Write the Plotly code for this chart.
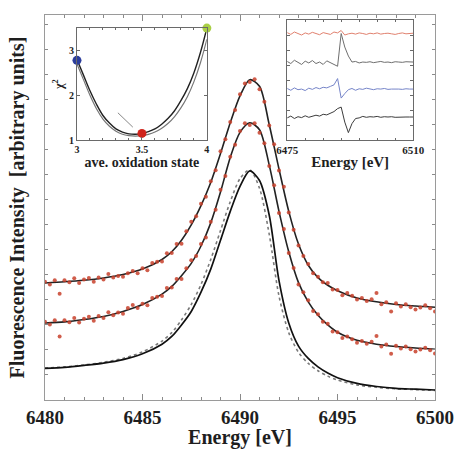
import numpy as np
import plotly.graph_objects as go

# ---- main panel: Kβ emission spectra (fits) ----
fit_energy = [6480, 6481, 6482, 6483, 6484, 6485, 6486,
              6486.5, 6487, 6487.5, 6488, 6488.5, 6489, 6489.5, 6490, 6490.5,
              6491, 6491.5, 6492, 6492.5, 6493, 6493.5, 6494, 6494.5, 6495,
              6496, 6497, 6498, 6499, 6500]
fit_upper = [30.4, 30.7, 31.1, 31.7, 32.6, 34.0, 36.5,
             38.5, 41.5, 45.5, 50.5, 56.5, 64.0, 72.0, 79.0, 83.2,
             81.5, 71.5, 60.0, 49.0, 40.5, 35.0, 31.8, 29.8, 28.4,
             26.5, 25.5, 24.8, 24.4, 24.1]
fit_middle = [20.0, 20.3, 20.9, 21.7, 23.0, 24.8, 27.5,
              29.5, 32.3, 35.5, 40.0, 46.0, 54.0, 63.0, 69.5, 72.0,
              70.2, 61.0, 49.0, 38.5, 30.5, 25.5, 22.0, 19.5, 17.6,
              15.5, 14.5, 13.9, 13.5, 13.2]
ref_solid = [8.2, 8.5, 9.0, 9.6, 10.5, 12.0, 14.5,
             16.5, 19.5, 23.0, 28.0, 34.0, 41.5, 49.0, 55.5, 59.5,
             57.0, 48.0, 31.0, 20.0, 14.0, 10.8, 8.6, 7.0, 5.8,
             4.3, 3.5, 3.0, 2.8, 2.6]
ref_dotted = [8.3, 8.6, 9.1, 9.8, 10.8, 12.5, 15.3,
              17.5, 20.8, 24.8, 30.0, 36.5, 44.0, 51.5, 57.5, 59.8,
              55.0, 43.0, 27.0, 17.5, 12.4, 9.5, 7.6, 6.2, 5.2,
              3.9, 3.3, 2.9, 2.7, 2.5]

# ---- measured points (0.25 eV steps from 6480 to 6500) ----
data_energy = np.linspace(6480, 6500, 81)
data_upper = [30.7, 30.0, 31.1, 27.6, 31.1, 30.6, 31.6, 30.4, 31.3, 31.7,
              30.7, 31.85, 31.3, 32.7, 31.8, 32.2, 32.0, 32.9, 33.5, 32.9,
              34.2, 33.7, 35.6, 35.9, 36.0, 38.1, 38.2, 40.5, 40.6, 43.8,
              46.3, 47.7, 51.0, 52.8, 56.8, 59.7, 64.6, 67.7, 72.2, 75.3,
              79.4, 82.2, 82.6, 83.3, 80.7, 77.5, 71.3, 66.4, 59.6, 55.4,
              48.7, 44.2, 40.1, 37.4, 35.3, 32.9, 32.0, 30.6, 30.4, 28.7,
              28.6, 27.2, 27.8, 27.1, 26.1, 26.5, 25.7, 26.2, 27.8, 24.9,
              25.4, 23.0, 25.1, 24.3, 24.9, 24.1, 23.5, 24.0, 24.6, 23.8,
              23.0]
data_middle = [20.3, 19.6, 20.7, 16.5, 20.7, 20.2, 21.3, 20.1, 21.1, 21.6,
               20.6, 21.8, 21.3, 22.8, 22.0, 22.7, 22.4, 23.9, 24.7, 23.9,
               25.0, 24.6, 26.5, 26.8, 27.0, 29.1, 29.2, 31.4, 31.4, 34.2,
               36.3, 37.4, 40.5, 42.2, 46.3, 49.4, 54.6, 58.2, 63.2, 66.3,
               69.9, 71.9, 71.4, 71.9, 69.4, 66.7, 60.8, 55.8, 48.6, 44.4,
               38.2, 34.3, 30.0, 28.0, 25.9, 23.1, 22.3, 20.3, 19.8, 17.8,
               17.6, 16.1, 16.5, 15.8, 14.9, 15.3, 14.6, 15.1, 16.6, 13.9,
               14.4, 12.0, 14.1, 13.4, 13.9, 13.2, 12.6, 13.1, 13.6, 12.9,
               12.1]

# ---- left inset: chi^2 vs average oxidation state ----
ox_state = [3.00, 3.05, 3.10, 3.15, 3.20, 3.25, 3.30, 3.35, 3.40, 3.45, 3.50,
            3.55, 3.60, 3.65, 3.70, 3.75, 3.80, 3.85, 3.90, 3.95, 4.00]
chi2_a = [2.80, 2.45, 2.10, 1.80, 1.55, 1.38, 1.25, 1.18, 1.14, 1.13, 1.15,
          1.19, 1.25, 1.35, 1.48, 1.65, 1.88, 2.15, 2.50, 2.95, 3.50]
chi2_b = [2.70, 2.35, 2.00, 1.70, 1.47, 1.31, 1.20, 1.13, 1.10, 1.09, 1.10,
          1.13, 1.18, 1.26, 1.37, 1.52, 1.72, 1.97, 2.30, 2.72, 3.25]
chi2_seg_x = [3.315, 3.43]
chi2_seg_y = [1.61, 1.29]
ox_marks = [3.0, 3.5, 4.0]
chi2_marks = [2.78, 1.15, 3.5]
mark_colors = ["#2b3d9c", "#d0241c", "#a9cf45"]

# ---- right inset: residual spectra ----
res_energy = list(range(6475, 6511))
res_red = [3.58, 3.52, 3.60, 3.55, 3.50, 3.57, 3.53, 3.59, 3.54, 3.51, 3.58, 3.56,
           3.52, 3.60, 3.57, 3.65, 3.50, 3.54, 3.56, 3.53, 3.57, 3.55, 3.52, 3.56,
           3.54, 3.57, 3.53, 3.55, 3.56, 3.54, 3.52, 3.55, 3.57, 3.54, 3.55, 3.56]
res_gray = [2.62, 2.55, 2.66, 2.58, 2.52, 2.63, 2.57, 2.65, 2.55, 2.60, 2.52, 2.64,
            2.58, 2.50, 2.46, 3.55, 3.10, 2.80, 2.60, 2.62, 2.57, 2.60, 2.59, 2.61,
            2.58, 2.60, 2.62, 2.59, 2.60, 2.58, 2.61, 2.60, 2.59, 2.61, 2.60, 2.60]
res_blue = [1.72, 1.66, 1.74, 1.68, 1.70, 1.65, 1.73, 1.69, 1.75, 1.71, 1.76, 1.74,
            1.79, 1.84, 2.05, 1.40, 1.55, 1.68, 1.72, 1.66, 1.71, 1.69, 1.73, 1.70,
            1.68, 1.71, 1.70, 1.72, 1.69, 1.70, 1.71, 1.70, 1.69, 1.71, 1.70, 1.70]
res_dark = [0.74, 0.80, 0.72, 0.78, 0.75, 0.81, 0.76, 0.79, 0.83, 0.80, 0.86, 0.84,
            0.90, 0.95, 1.05, 1.10, 0.60, 0.25, 0.55, 0.72, 0.74, 0.79, 0.76, 0.78,
            0.77, 0.79, 0.76, 0.78, 0.77, 0.78, 0.76, 0.77, 0.78, 0.77, 0.77, 0.77]

SERIF = "Liberation Serif"
RED = "#c8412c"
INK = "#1e1e1e"

fig = go.Figure()

# main spectra
fig.add_trace(go.Scatter(x=fit_energy, y=ref_dotted, mode="lines",
                         line=dict(color="#7a7a7a", width=1.6, dash="dot", shape="spline", smoothing=0.8),
                         showlegend=False))
fig.add_trace(go.Scatter(x=fit_energy, y=ref_solid, mode="lines",
                         line=dict(color="#111111", width=1.7, shape="spline", smoothing=0.8),
                         showlegend=False))
for fit_vals, pts in ((fit_upper, data_upper), (fit_middle, data_middle)):
    fig.add_trace(go.Scatter(x=fit_energy, y=fit_vals, mode="lines",
                             line=dict(color="#222222", width=1.6, shape="spline", smoothing=0.8),
                             showlegend=False))
    fig.add_trace(go.Scatter(x=data_energy, y=pts, mode="markers",
                             marker=dict(color=RED, size=4, opacity=0.85),
                             showlegend=False))

# left inset
fig.add_trace(go.Scatter(x=ox_state, y=chi2_b, mode="lines", xaxis="x2", yaxis="y2",
                         line=dict(color="#777777", width=1.2, shape="spline"), showlegend=False))
fig.add_trace(go.Scatter(x=ox_state, y=chi2_a, mode="lines", xaxis="x2", yaxis="y2",
                         line=dict(color="#222222", width=1.4, shape="spline"), showlegend=False))
fig.add_trace(go.Scatter(x=chi2_seg_x, y=chi2_seg_y, mode="lines", xaxis="x2", yaxis="y2",
                         line=dict(color="#888888", width=1), showlegend=False))
fig.add_trace(go.Scatter(x=ox_marks, y=chi2_marks, mode="markers", xaxis="x2", yaxis="y2",
                         marker=dict(color=mark_colors, size=9), cliponaxis=False, showlegend=False))

# right inset
for vals, col in ((res_red, "#e0806e"), (res_gray, "#6e6e6e"), (res_blue, "#7584c8"), (res_dark, "#3c3c3c")):
    fig.add_trace(go.Scatter(x=res_energy, y=vals, mode="lines", xaxis="x3", yaxis="y3",
                             line=dict(color=col, width=1), showlegend=False))

frame = dict(showline=True, linecolor="#9a9a9a", linewidth=1, mirror="ticks", automargin=False,
             showgrid=False, zeroline=False, ticks="inside", tickcolor="#8a8a8a")
inset_frame = dict(showline=True, linecolor="#6a6a6a", linewidth=1, mirror="ticks", automargin=False,
                   showgrid=False, zeroline=False, ticks="inside", tickcolor="#6a6a6a", ticklen=3)

fig.update_layout(
    width=454, height=449,
    margin=dict(l=45, r=19, t=15, b=49, autoexpand=False),
    paper_bgcolor="white", plot_bgcolor="white",
    xaxis=dict(range=[6480, 6500], tickvals=[6480, 6485, 6490, 6495, 6500], ticklen=6,
               minor=dict(dtick=1, ticks="inside", ticklen=3, tickcolor="#8a8a8a"),
               tickfont=dict(family=SERIF, size=19, color=INK, weight="bold"),
               title=dict(text="Energy [eV]", font=dict(family=SERIF, size=20, color=INK, weight="bold"),
                          standoff=2),
               **frame),
    yaxis=dict(range=[0, 100], showticklabels=False, dtick=6.5, ticklen=3,
               title=dict(text="Fluorescence Intensity  [arbitrary units]",
                          font=dict(family=SERIF, size=20, color=INK, weight="bold"), standoff=14),
               **frame),
    xaxis2=dict(domain=[0.082, 0.415], anchor="y2", range=[3, 4], tickvals=[3, 3.5, 4],
                ticktext=["3", "3.5", "4"],
                minor=dict(dtick=0.1, ticks="inside", ticklen=2, tickcolor="#6a6a6a"),
                tickfont=dict(family=SERIF, size=10, color=INK, weight="bold"),
                title=dict(text="ave. oxidation state", font=dict(family=SERIF, size=14, color=INK, weight="bold"),
                           standoff=1),
                **inset_frame),
    yaxis2=dict(domain=[0.675, 0.966], anchor="x2", range=[1, 3.5], tickvals=[1, 2, 3],
                tickfont=dict(family=SERIF, size=10, color=INK, weight="bold"),
                title=dict(text="χ<sup>2</sup>", font=dict(family=SERIF, size=12, color=INK, weight="bold"),
                           standoff=2),
                **inset_frame),
    xaxis3=dict(domain=[0.621, 0.944], anchor="y3", range=[6475, 6510], tickvals=[6475, 6510],
                minor=dict(dtick=5, ticks="inside", ticklen=2, tickcolor="#6a6a6a"),
                tickfont=dict(family=SERIF, size=11, color=INK, weight="bold"),
                title=dict(text="Energy [eV]", font=dict(family=SERIF, size=15, color=INK, weight="bold"),
                           standoff=1),
                **inset_frame),
    yaxis3=dict(domain=[0.675, 0.987], anchor="x3", range=[0, 4], showticklabels=False, dtick=0.5,
                **inset_frame),
)

fig.write_html("out.html")
